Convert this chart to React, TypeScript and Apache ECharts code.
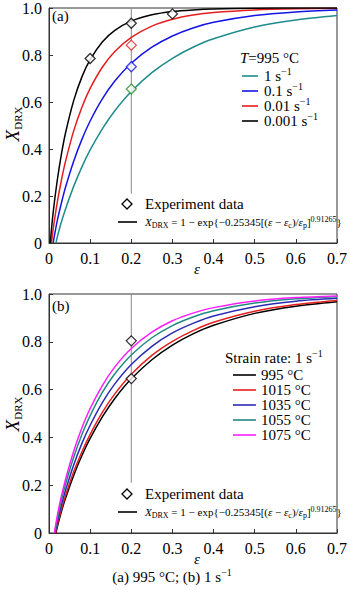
import React, { useEffect, useRef } from 'react';
import * as echarts from 'echarts';

const FONT = "'Liberation Serif', serif";

// tick labels
const xTicks = ['0', '0.1', '0.2', '0.3', '0.4', '0.5', '0.6', '0.7'];
const yTicks = ['0', '0.2', '0.4', '0.6', '0.8', '1.0'];

// (a) T = 995 °C, different strain rates  [strain, X_DRX]
const rate1: number[][] = [[0.017,0],[0.02,0.024],[0.03,0.089],[0.04,0.144],[0.06,0.241],[0.08,0.324],[0.1,0.396],[0.13,0.487],[0.16,0.563],[0.2,0.645],[0.25,0.725],[0.3,0.786],[0.35,0.833],[0.4,0.869],[0.5,0.919],[0.6,0.949],[0.7,0.968]];
const rate01: number[][] = [[0.01,0],[0.02,0.094],[0.03,0.169],[0.04,0.236],[0.06,0.348],[0.08,0.441],[0.1,0.519],[0.13,0.614],[0.16,0.689],[0.2,0.765],[0.25,0.833],[0.3,0.881],[0.35,0.915],[0.4,0.939],[0.5,0.968],[0.6,0.983],[0.7,0.991]];
const rate001: number[][] = [[0.006,0],[0.01,0.058],[0.02,0.172],[0.03,0.266],[0.04,0.346],[0.06,0.477],[0.08,0.578],[0.1,0.658],[0.13,0.749],[0.16,0.815],[0.2,0.875],[0.25,0.923],[0.3,0.952],[0.35,0.97],[0.4,0.981],[0.5,0.992],[0.6,0.997],[0.7,0.999]];
const rate0001: number[][] = [[0.003,0],[0.01,0.128],[0.02,0.266],[0.03,0.376],[0.04,0.467],[0.06,0.606],[0.08,0.707],[0.1,0.78],[0.13,0.856],[0.16,0.905],[0.2,0.944],[0.25,0.971],[0.3,0.985],[0.35,0.992],[0.4,0.996],[0.5,0.999],[0.6,1.0],[0.7,1.0]];
const expA_black: number[][] = [[0.1,0.785],[0.2,0.935],[0.3,0.975]];
const expA_red: number[][] = [[0.2,0.842]];
const expA_blue: number[][] = [[0.2,0.75]];
const expA_green: number[][] = [[0.2,0.655]];
const guideA: number[][] = [[0.2,0.21],[0.2,1]];

// (b) strain rate 1 s^-1, different temperatures
const t995: number[][] = [[0.017,0],[0.02,0.024],[0.03,0.089],[0.04,0.144],[0.06,0.241],[0.08,0.324],[0.1,0.396],[0.13,0.487],[0.16,0.563],[0.2,0.645],[0.25,0.725],[0.3,0.786],[0.35,0.833],[0.4,0.869],[0.5,0.919],[0.6,0.949],[0.7,0.968]];
const t1015: number[][] = [[0.016,0],[0.02,0.033],[0.03,0.099],[0.04,0.156],[0.06,0.256],[0.08,0.34],[0.1,0.413],[0.13,0.506],[0.16,0.582],[0.2,0.664],[0.25,0.743],[0.3,0.802],[0.35,0.847],[0.4,0.882],[0.5,0.928],[0.6,0.956],[0.7,0.973]];
const t1035: number[][] = [[0.015,0],[0.02,0.044],[0.03,0.116],[0.04,0.178],[0.06,0.285],[0.08,0.375],[0.1,0.451],[0.13,0.547],[0.16,0.624],[0.2,0.705],[0.25,0.781],[0.3,0.837],[0.35,0.877],[0.4,0.908],[0.5,0.947],[0.6,0.97],[0.7,0.982]];
const t1055: number[][] = [[0.014,0],[0.02,0.058],[0.03,0.136],[0.04,0.203],[0.06,0.317],[0.08,0.412],[0.1,0.491],[0.13,0.589],[0.16,0.666],[0.2,0.745],[0.25,0.817],[0.3,0.868],[0.35,0.904],[0.4,0.93],[0.5,0.962],[0.6,0.98],[0.7,0.989]];
const t1075: number[][] = [[0.013,0],[0.02,0.071],[0.03,0.153],[0.04,0.223],[0.06,0.342],[0.08,0.44],[0.1,0.521],[0.13,0.618],[0.16,0.695],[0.2,0.772],[0.25,0.84],[0.3,0.888],[0.35,0.92],[0.4,0.943],[0.5,0.971],[0.6,0.985],[0.7,0.992]];
const expB: number[][] = [[0.2,0.804],[0.2,0.646]];
const guideB: number[][] = [[0.2,0.21],[0.2,1]];

const legendA = ['1 s', '0.1 s', '0.01 s', '0.001 s'];
const legendB = ['995 °C', '1015 °C', '1035 °C', '1055 °C', '1075 °C'];

const C = {
  teal: '#1f8c8c',
  blue: '#1414e6',
  red: '#e61e1e',
  black: '#000000',
  green: '#2a8c2a',
  magenta: '#ff1eff',
  navy: '#2a2ab4',
  tealB: '#218a80',
};

const rich: any = {
  n: { fontFamily: FONT, fontSize: 15, lineHeight: 20, color: '#000' },
  i: { fontFamily: FONT, fontSize: 15, fontStyle: 'italic', lineHeight: 20, color: '#000' },
  sup: { fontFamily: FONT, fontSize: 10, lineHeight: 10, verticalAlign: 'top', color: '#000' },
  sub: { fontFamily: FONT, fontSize: 10, lineHeight: 10, verticalAlign: 'bottom', color: '#000' },
  fn: { fontFamily: FONT, fontSize: 11, lineHeight: 14, color: '#000' },
  fi: { fontFamily: FONT, fontSize: 11, fontStyle: 'italic', lineHeight: 14, color: '#000' },
  fsub: { fontFamily: FONT, fontSize: 8, lineHeight: 7, verticalAlign: 'bottom', color: '#000' },
  fsup: { fontFamily: FONT, fontSize: 8, lineHeight: 7, verticalAlign: 'top', color: '#000' },
  bx: { fontFamily: FONT, fontSize: 19, fontStyle: 'italic', lineHeight: 22, color: '#000' },
  bsub: { fontFamily: FONT, fontSize: 11, lineHeight: 11, verticalAlign: 'bottom', color: '#000' },
};

function txt(x: number, y: number, text: string, align = 'left', rotation = 0): any {
  return {
    type: 'text', x, y, rotation, silent: true,
    style: { text, rich, align, verticalAlign: 'middle', fontFamily: FONT, fontSize: 11, fill: '#000' },
  };
}
function seg(x1: number, x2: number, y: number, color: string): any {
  return { type: 'line', silent: true, shape: { x1, y1: y, x2, y2: y }, style: { stroke: color, lineWidth: 1.6 } };
}
function diamond(x: number, y: number): any {
  return {
    type: 'polygon', silent: true,
    shape: { points: [[x, y - 5], [x + 5, y], [x, y + 5], [x - 5, y]] },
    style: { fill: '#fff', stroke: '#000', lineWidth: 1.3 },
  };
}

const formula = '{fi|X}{fsub|DRX}{fn| = 1 − exp{−0.25345[(}{fi|ε}{fn| − }{fi|ε}{fsub|c}{fn|)/}{fi|ε}{fsub|p}{fn|]}{fsup|0.91265}' + '\u007d';

const CSS = `svg text { font-family: 'Liberation Serif', serif !important; }`;

export default function App() {
  const ref = useRef<HTMLDivElement>(null);
  useEffect(() => {
    if (!ref.current) return;
    const chart = echarts.init(ref.current, undefined, { renderer: 'svg' });
    const xAxisBase = (gridIndex: number) => ({
      type: 'value', gridIndex, min: 0, max: 0.7, interval: 0.1,
      axisLine: { show: true, onZero: false, lineStyle: { color: '#333', width: 1 } },
      axisTick: { show: true, inside: true, length: 4, lineStyle: { color: '#333' } },
      axisLabel: { fontFamily: FONT, fontSize: 16, color: '#000', margin: 7,
        formatter: (v: number) => xTicks[Math.round(v * 10)] ?? '' },
      splitLine: { show: false },
    });
    const yAxisBase = (gridIndex: number) => ({
      type: 'value', gridIndex, min: 0, max: 1, interval: 0.2,
      axisLine: { show: true, onZero: false, lineStyle: { color: '#333', width: 1 } },
      axisTick: { show: true, inside: true, length: 4, lineStyle: { color: '#333' } },
      axisLabel: { fontFamily: FONT, fontSize: 16, color: '#000', margin: 7,
        formatter: (v: number) => yTicks[Math.round(v * 5)] ?? '' },
      splitLine: { show: false },
    });
    const curve = (name: string, data: number[][], color: string, idx: number) => ({
      name, type: 'line', data, xAxisIndex: idx, yAxisIndex: idx, smooth: 0.3,
      symbol: 'none', lineStyle: { color, width: 1.5 }, itemStyle: { color }, z: 3, silent: true,
    });
    const pts = (data: number[][], color: string, idx: number) => ({
      type: 'scatter', data, xAxisIndex: idx, yAxisIndex: idx, symbol: 'diamond', symbolSize: 10,
      itemStyle: { color: '#fff', borderColor: color, borderWidth: 1.3 }, z: 5, silent: true,
    });
    const guide = (data: number[][], idx: number) => ({
      type: 'line', data, xAxisIndex: idx, yAxisIndex: idx, symbol: 'none',
      lineStyle: { color: '#888', width: 1 }, z: 2, silent: true,
    });

    const graphic: any[] = [
      // panel (a)
      txt(52, 16, '{n|(a)}'),
      txt(240, 58, '{i|T}{n|=995 °C}'),
      ...[C.teal, C.blue, C.red, C.black].flatMap((c, k) => [
        seg(242, 258, 76 + k * 15, c),
        txt(264, 76 + k * 15, `{n|${legendA[k]}}{sup|−1}`),
      ]),
      diamond(127, 204),
      txt(145, 204, '{n|Experiment data}'),
      seg(118, 137, 222, '#000'),
      txt(145, 222, formula),
      txt(12, 124, '{bx|X}{bsub|DRX}', 'center', Math.PI / 2),
      txt(197, 269, '{i|ε}', 'center'),
      // panel (b)
      txt(52, 306, '{n|(b)}'),
      txt(225, 358, '{n|Strain rate: 1 s}{sup|−1}'),
      ...[C.black, C.red, C.navy, C.tealB, C.magenta].flatMap((c, k) => [
        seg(233, 256, 375 + k * 15, c),
        txt(261, 375 + k * 15, `{n|${legendB[k]}}`),
      ]),
      diamond(127, 494),
      txt(145, 494, '{n|Experiment data}'),
      seg(118, 137, 512, '#000'),
      txt(145, 512, formula),
      txt(12, 414, '{bx|X}{bsub|DRX}', 'center', Math.PI / 2),
      txt(197, 559, '{i|ε}', 'center'),
      // caption
      txt(172, 577, '{n|(a) 995 °C; (b) 1 s}{sup|−1}', 'center'),
    ];

    chart.setOption({
      animation: false,
      backgroundColor: '#fff',
      textStyle: { fontFamily: FONT },
      grid: [
        { left: 49, top: 4, width: 297, height: 239, show: true, borderColor: '#333', borderWidth: 1, backgroundColor: 'transparent' },
        { left: 49, top: 294, width: 297, height: 239, show: true, borderColor: '#333', borderWidth: 1, backgroundColor: 'transparent' },
      ],
      xAxis: [xAxisBase(0), xAxisBase(1)],
      yAxis: [yAxisBase(0), yAxisBase(1)],
      series: [
        guide(guideA, 0),
        curve('1', rate1, C.teal, 0),
        curve('0.1', rate01, C.blue, 0),
        curve('0.01', rate001, C.red, 0),
        curve('0.001', rate0001, C.black, 0),
        pts(expA_black, '#000', 0),
        pts(expA_red, C.red, 0),
        pts(expA_blue, C.blue, 0),
        pts(expA_green, C.green, 0),
        guide(guideB, 1),
        curve('995', t995, C.black, 1),
        curve('1015', t1015, C.red, 1),
        curve('1035', t1035, C.navy, 1),
        curve('1055', t1055, C.tealB, 1),
        curve('1075', t1075, C.magenta, 1),
        pts(expB, '#000', 1),
      ],
      graphic,
    });
    return () => chart.dispose();
  }, []);
  return (
    <>
      <style>{CSS}</style>
      <div ref={ref} style={{ position: 'absolute', left: 0, top: 0, width: 350, height: 593 }} />
    </>
  );
}
